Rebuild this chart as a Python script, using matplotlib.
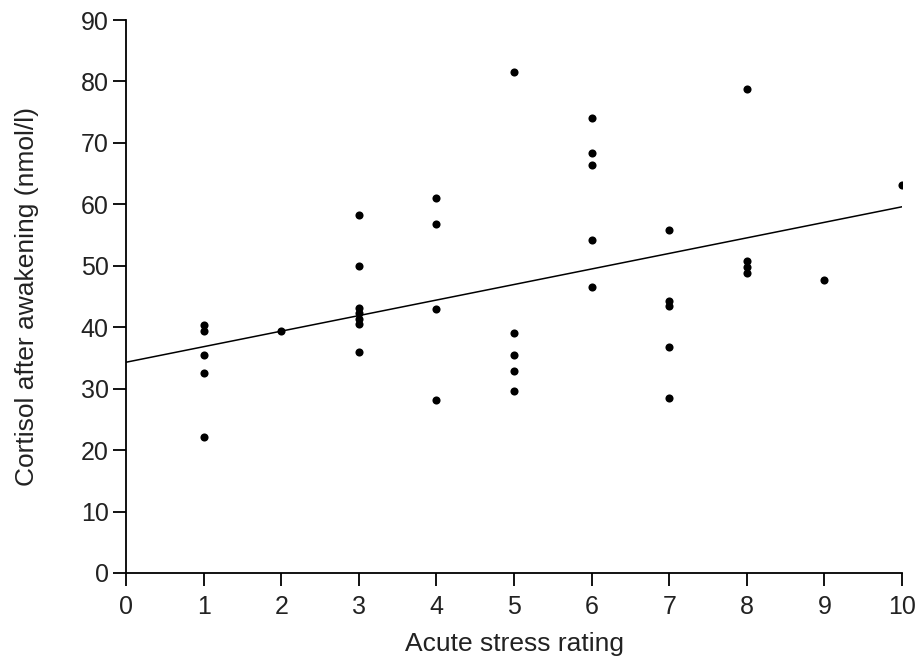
import matplotlib.pyplot as plt

plt.rcParams["font.family"] = ["Liberation Sans", "DejaVu Sans"]

# acute stress rating for each participant and cortisol after awakening (nmol/l)
stress = [1, 1, 1, 1, 1,
          2,
          3, 3, 3, 3, 3, 3, 3,
          4, 4, 4, 4,
          5, 5, 5, 5, 5,
          6, 6, 6, 6, 6,
          7, 7, 7, 7, 7,
          8, 8, 8, 8,
          9,
          10]
cortisol = [40.4, 39.4, 35.5, 32.6, 22.1,
            39.4,
            58.2, 49.9, 43.2, 42.3, 41.4, 40.5, 35.9,
            61.0, 56.8, 43.0, 28.2,
            81.5, 39.0, 35.4, 32.8, 29.6,
            74.0, 68.3, 66.4, 54.2, 46.5,
            55.9, 44.2, 43.5, 36.8, 28.5,
            78.7, 50.7, 49.8, 48.8,
            47.7,
            63.2]

# fitted regression line end points
fit_x = [0, 10]
fit_y = [34.3, 59.6]

fig = plt.figure(figsize=(9.21, 6.6), dpi=100)
ax = fig.add_axes([126 / 921, 1 - 573 / 660, (902 - 126) / 921, (573 - 20) / 660])

ax.plot(fit_x, fit_y, color="black", linewidth=1.1, zorder=2)
ax.scatter(stress, cortisol, s=34, color="black", linewidths=0, zorder=3)

ax.set_xlim(0, 10)
ax.set_ylim(0, 90)
ax.set_xticks(range(0, 11))
ax.set_yticks(range(0, 91, 10))

for side in ("top", "right"):
    ax.spines[side].set_visible(False)
for side in ("left", "bottom"):
    ax.spines[side].set_linewidth(1.3)

ax.tick_params(axis="both", direction="out", length=9.5, width=1.3,
               labelsize=18, colors="black", labelcolor="#222222")
ax.tick_params(axis="x", pad=6)
ax.tick_params(axis="y", pad=3)

ax.set_xlabel("Acute stress rating", fontsize=19, color="#222222", labelpad=10)
ax.set_ylabel("Cortisol after awakening (nmol/l)", fontsize=19, color="#222222", labelpad=30)

fig.savefig("out.png", dpi=100)
